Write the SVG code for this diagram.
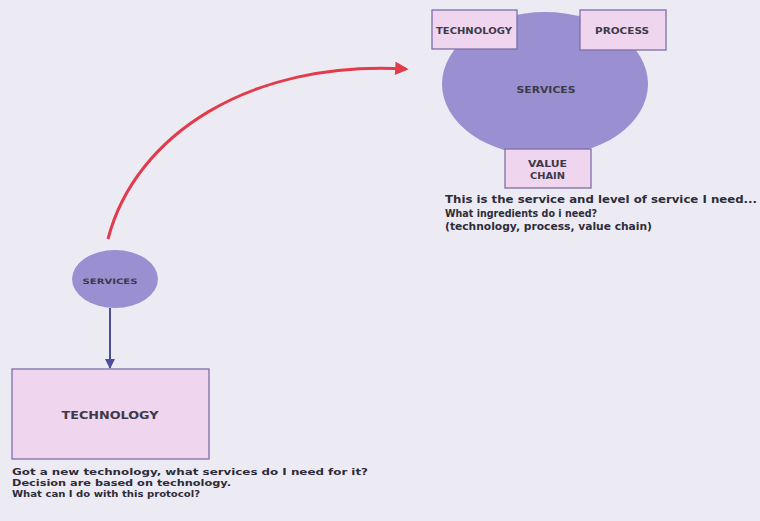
<svg xmlns="http://www.w3.org/2000/svg" width="760" height="521" viewBox="0 0 760 521">
  <style>
    .bubble { fill: #9a8fd1; }
    .box { fill: #efd5ee; stroke: #7d6fa8; stroke-width: 1.3; }
    .lbl { font-family: "DejaVu Sans", "Liberation Sans", sans-serif; font-weight: bold; fill: #3c3a48; text-anchor: middle; }
    .note { font-family: "DejaVu Sans", "Liberation Sans", sans-serif; font-weight: bold; fill: #2e2c3a; }
  </style>
  <defs>
    <marker id="redHead" viewBox="0 0 10 10" refX="8" refY="5" markerWidth="5" markerHeight="4.5" orient="auto" markerUnits="strokeWidth">
      <path d="M0,0 L10,5 L0,10 Z" fill="#e23b4c"/>
    </marker>
    <marker id="blueHead" viewBox="0 0 10 10" refX="9" refY="5" markerWidth="5" markerHeight="5" orient="auto" markerUnits="strokeWidth">
      <path d="M0,0 L10,5 L0,10 Z" fill="#4a4f98"/>
    </marker>
  </defs>

  <rect width="760" height="521" fill="#ecebf4"/>

  <!-- connectors -->
  <g id="connectors">
    <path d="M108,239 C135,135 250,60 406,69" fill="none" stroke="#e23b4c" stroke-width="3" marker-end="url(#redHead)"/>
    <line x1="110" y1="308" x2="110" y2="368" stroke="#4a4f98" stroke-width="2" marker-end="url(#blueHead)"/>
  </g>

  <!-- service bundle: services surrounded by its ingredients -->
  <g id="services-main">
    <ellipse class="bubble" cx="545" cy="84" rx="103" ry="72"/>
    <text class="lbl" x="546" y="93" font-size="8.5" textLength="59" lengthAdjust="spacingAndGlyphs">SERVICES</text>
  </g>
  <g id="ingredient-technology">
    <rect class="box" x="432" y="10" width="85" height="39"/>
    <text class="lbl" x="474" y="33.5" font-size="8.5" textLength="76" lengthAdjust="spacingAndGlyphs">TECHNOLOGY</text>
  </g>
  <g id="ingredient-process">
    <rect class="box" x="580" y="10" width="86" height="40"/>
    <text class="lbl" x="622" y="33.5" font-size="8.5" textLength="54" lengthAdjust="spacingAndGlyphs">PROCESS</text>
  </g>
  <g id="ingredient-value-chain">
    <rect class="box" x="505" y="149" width="86" height="39"/>
    <text class="lbl" x="547.5" y="166.5" font-size="8.5" textLength="39" lengthAdjust="spacingAndGlyphs">VALUE</text>
    <text class="lbl" x="547.5" y="178.5" font-size="8.5" textLength="35" lengthAdjust="spacingAndGlyphs">CHAIN</text>
  </g>
  <g id="note-services">
    <text class="note" font-size="9.6">
      <tspan x="445" y="203" textLength="312" lengthAdjust="spacingAndGlyphs">This is the service and level of service I need...</tspan>
      <tspan x="445" y="216.5" textLength="152" lengthAdjust="spacingAndGlyphs">What ingredients do i need?</tspan>
      <tspan x="445" y="230" textLength="207" lengthAdjust="spacingAndGlyphs">(technology, process, value chain)</tspan>
    </text>
  </g>

  <!-- technology-driven view -->
  <g id="services-small">
    <ellipse class="bubble" cx="115" cy="279" rx="43" ry="29"/>
    <text class="lbl" x="110" y="284" font-size="7.5" textLength="55" lengthAdjust="spacingAndGlyphs">SERVICES</text>
  </g>
  <g id="technology-main">
    <rect class="box" x="12" y="369" width="197" height="90"/>
    <text class="lbl" x="110" y="418.5" font-size="10" textLength="97" lengthAdjust="spacingAndGlyphs">TECHNOLOGY</text>
  </g>
  <g id="note-technology">
    <text class="note" font-size="8.4">
      <tspan x="12" y="475" textLength="356" lengthAdjust="spacingAndGlyphs">Got a new technology, what services do I need for it?</tspan>
      <tspan x="12" y="486" textLength="219" lengthAdjust="spacingAndGlyphs">Decision are based on technology.</tspan>
      <tspan x="12" y="497" textLength="188" lengthAdjust="spacingAndGlyphs">What can I do with this protocol?</tspan>
    </text>
  </g>
</svg>
